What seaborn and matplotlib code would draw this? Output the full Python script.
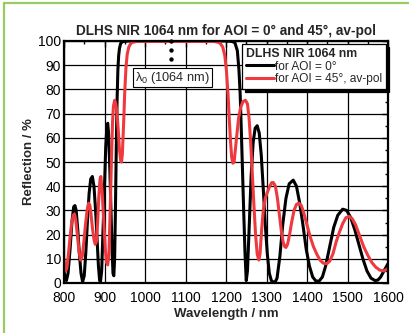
import pandas as pd
import numpy as np
import matplotlib
matplotlib.use("Agg")
import matplotlib.pyplot as plt
from matplotlib.patches import Rectangle
from matplotlib.ticker import MultipleLocator
import seaborn as sns

# AOI = 0 deg
wl_0 = [800, 803, 806, 810, 815, 820, 824, 827, 830, 834, 838, 842, 846, 850, 854, 858, 862, 866, 870,
        874, 878, 882, 885, 888, 890, 893, 896, 900, 903, 906, 908, 910, 913, 916, 919, 921, 923, 925,
        927, 929, 931, 933, 935, 937, 940, 945, 960, 1200, 1215, 1222, 1228, 1232, 1235, 1238, 1241,
        1244, 1247, 1250, 1253, 1257, 1262, 1267, 1272, 1277, 1282, 1287, 1292, 1297, 1302, 1307, 1312,
        1316, 1321, 1326, 1333, 1340, 1348, 1356, 1366, 1374, 1382, 1390, 1398, 1406, 1414, 1422, 1430,
        1438, 1446, 1456, 1466, 1476, 1488, 1498, 1508, 1518, 1528, 1538, 1548, 1558, 1568, 1575, 1582,
        1590, 1600]
refl_0 = [5, 2, 1, 4, 14, 26, 31.5, 32, 30, 22, 12, 4, 0.5, 3, 13, 26, 37, 43, 44,
          40, 30, 17, 7, 1, 0.5, 5, 20, 40, 56, 65, 66, 62, 48, 30, 12, 4, 3, 10,
          30, 55, 75, 88, 94, 97, 99, 99.8, 100, 100, 99.8, 99.3, 96, 88, 78, 62, 45,
          28, 12, 1, 5, 22, 44, 58, 64, 65, 62, 53, 39, 24, 12, 4, 1,
          0.5, 0.3, 2, 11, 24, 35, 41, 42.5, 40, 33, 24, 14, 7, 2.5, 0.8, 0.8,
          2.5, 7, 15, 23, 28, 30.5, 30, 27, 22, 16, 10, 5, 2, 1, 1.2, 2.5,
          5, 8]

# AOI = 45 deg, average polarisation
wl_45 = [800, 802, 804, 807, 811, 815, 819, 823, 826, 829, 833, 837, 841, 845, 849, 853, 857, 861, 864,
         867, 870, 874, 877, 880, 883, 886, 889, 891, 894, 898, 902, 905, 908, 911, 914, 917, 920, 922,
         925, 928, 931, 934, 937, 940, 942, 944, 947, 950, 953, 956, 960, 965, 970, 980, 1170, 1180,
         1186, 1192, 1197, 1201, 1205, 1208, 1211, 1214, 1217, 1220, 1223, 1226, 1231, 1236, 1242, 1248,
         1253, 1257, 1261, 1265, 1269, 1273, 1277, 1281, 1284, 1288, 1292, 1297, 1302, 1308, 1313, 1317,
         1322, 1327, 1332, 1337, 1341, 1345, 1348, 1352, 1357, 1362, 1368, 1374, 1380, 1386, 1392, 1400,
         1408, 1416, 1424, 1432, 1440, 1449, 1456, 1464, 1472, 1480, 1488, 1496, 1504, 1512, 1520, 1530,
         1540, 1550, 1560, 1570, 1580, 1590, 1600]
refl_45 = [10, 6, 5, 6, 12, 19, 25, 28, 28.5, 26, 20, 13, 9.5, 11, 17, 24, 30, 33, 32,
           28, 23, 18, 16, 17, 25, 36, 43, 44, 38, 26, 14, 8.5, 7.5, 12, 30, 50, 67, 73,
           75.5, 74, 70, 63, 55, 50.5, 50, 53, 65, 79, 89, 94.5, 97.5, 99, 99.5, 99.8, 99.8, 99.5,
           99, 97.5, 94, 88, 78, 68, 59, 52, 49.5, 50, 55, 60, 68, 72.5, 75, 75.5,
           74, 68, 58, 45, 32, 20, 12, 9.5, 12, 22, 30, 35, 37.5, 40, 41.5, 41.5,
           40, 35, 28, 21, 17, 15, 14.7, 16, 20, 25, 30, 32.5, 33, 32, 29, 24,
           19, 15, 12, 9.5, 8.2, 8, 9, 12, 17, 21, 24.5, 27, 27.5, 26.5, 24, 19.5,
           15, 11.5, 8.5, 6.5, 5.3, 5, 6]

dot_x = [1064, 1064, 1064]
dot_y = [100, 96.3, 92.4]

x_ticks = [800, 900, 1000, 1100, 1200, 1300, 1400, 1500, 1600]
y_ticks = [0, 10, 20, 30, 40, 50, 60, 70, 80, 90, 100]


def main():
    sns.set_style("white")
    plt.rcParams['font.family'] = ['Liberation Sans', 'DejaVu Sans']
    plt.rcParams['mathtext.fontset'] = 'custom'
    plt.rcParams['mathtext.rm'] = 'Liberation Sans'

    df = pd.concat([
        pd.DataFrame({'wl': wl_0, 'R': refl_0, 'series': 'for AOI = 0°'}),
        pd.DataFrame({'wl': wl_45, 'R': refl_45, 'series': 'for AOI = 45°, av-pol'}),
    ])

    fig = plt.figure(figsize=(4.10, 3.33), dpi=100)
    ax = fig.add_axes([64 / 410, 1 - 283 / 333, 324 / 410, 242 / 333])

    sns.lineplot(data=df, x='wl', y='R', hue='series', sort=False,
                 palette={'for AOI = 0°': 'black', 'for AOI = 45°, av-pol': '#EE3A3F'},
                 linewidth=2.2, ax=ax, estimator=None)
    sns.scatterplot(x=dot_x, y=dot_y, color='black', s=10, ax=ax, zorder=5, linewidth=0,
                    clip_on=False)

    ax.set_xlim(800, 1600)
    ax.set_ylim(0, 100)
    ax.set_xticks(x_ticks)
    ax.set_yticks(y_ticks)
    ax.xaxis.set_minor_locator(MultipleLocator(50))
    ax.yaxis.set_minor_locator(MultipleLocator(5))
    ax.tick_params(which='both', direction='in', top=True, right=True, labelsize=10,
                   colors='black')
    ax.tick_params(axis='x', pad=6)
    ax.tick_params(axis='y', pad=2)
    ax.tick_params(which='major', length=4, width=1)
    ax.tick_params(which='minor', length=2.5, width=1)
    ax.grid(True, which='major', color='black', linewidth=0.9)
    ax.set_axisbelow(True)
    for s in ax.spines.values():
        s.set_linewidth(1.6)
        s.set_color('black')

    ax.set_xlabel('Wavelength / nm', fontsize=9.5, fontweight='bold', labelpad=2)
    ax.set_ylabel('Reflection / %', fontsize=9.5, fontweight='bold', labelpad=2)
    ax.set_title('DLHS NIR 1064 nm for AOI = 0° and 45°, av-pol', fontsize=9.8, fontweight='bold', pad=4)

    ax.text(1068, 84.9, 'λ$_0$ (1064 nm)', fontsize=9.2, ha='center', va='center',
            bbox=dict(boxstyle='square,pad=0.15', fc='white', ec='black', lw=0.8), zorder=6)

    leg = ax.legend(title='DLHS NIR 1064 nm', loc='upper right', bbox_to_anchor=(0.997, 0.993),
                    fontsize=8.6, title_fontproperties={'weight': 'bold', 'size': 8.8},
                    frameon=True, fancybox=False, shadow={'color': 'black', 'alpha': 1},
                    edgecolor='black', framealpha=1, borderpad=0.35, labelspacing=0.05,
                    handlelength=2.3, handletextpad=0.05, borderaxespad=0.1, alignment='left')
    leg.get_frame().set_linewidth(0.9)
    for line in leg.get_lines():
        line.set_linewidth(2.2)

    # light green frame around the figure (only left and top visible)
    fig.patches.append(Rectangle((4 / 410, -0.1), 1.2, 1.1 - 3 / 333, transform=fig.transFigure,
                                 fill=False, ec='#98CC60', lw=1.6))

    fig.savefig('out.png', dpi=100)
    plt.close(fig)


if __name__ == "__main__":
    main()
